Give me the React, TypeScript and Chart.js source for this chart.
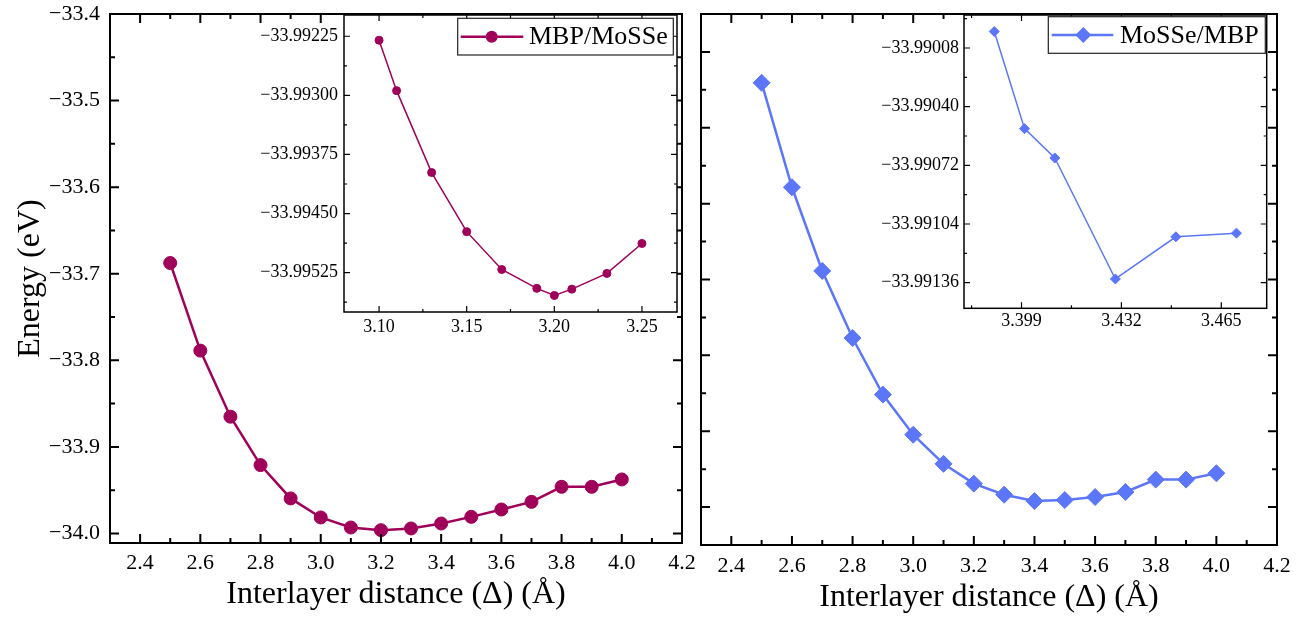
import React, { useEffect, useRef } from "react";
import { Chart, registerables } from "chart.js";

Chart.register(...registerables);

const FONT = "'Liberation Serif', 'Times New Roman', 'DejaVu Serif', serif";
const CRIMSON = "rgb(160, 0, 90)";
const BLUE = "rgb(92, 118, 250)";

// ---- Data ----
const distance = [2.5, 2.6, 2.7, 2.8, 2.9, 3.0, 3.1, 3.2, 3.3, 3.4, 3.5, 3.6, 3.7, 3.8, 3.9, 4.0];
const energyMBPMoSSe = [
  -33.6876, -33.7888, -33.8651, -33.921, -33.9595, -33.9815, -33.9931, -33.9962,
  -33.9942, -33.9885, -33.9808, -33.9723, -33.9635, -33.9461, -33.9461, -33.9376,
];
const energyMoSSeMBP = [
  -33.4407, -33.5784, -33.6887, -33.7771, -33.8517, -33.9046, -33.943, -33.9691,
  -33.9837, -33.9921, -33.9907, -33.9868, -33.9801, -33.9638, -33.9638, -33.9554,
];

const insetDistanceLeft = [3.1, 3.11, 3.13, 3.15, 3.17, 3.19, 3.2, 3.21, 3.23, 3.25];
const insetEnergyLeft = [
  -33.9923, -33.99294, -33.99398, -33.99473, -33.99521, -33.99545, -33.99554, -33.99546,
  -33.99526, -33.99488,
];

const insetDistanceRight = [3.39, 3.4, 3.41, 3.43, 3.45, 3.47];
const insetEnergyRight = [-33.98999, -33.99052, -33.99068, -33.99134, -33.99111, -33.99109];

// ---- Tick labels ----
const mainXTicks = [2.4, 2.6, 2.8, 3.0, 3.2, 3.4, 3.6, 3.8, 4.0, 4.2];
const mainYTicks = [-34.0, -33.9, -33.8, -33.7, -33.6, -33.5, -33.4];
const insetLeftXTicks = [3.1, 3.15, 3.2, 3.25];
const insetLeftYTicks = [-33.99525, -33.9945, -33.99375, -33.993, -33.99225];
const insetRightXTicks = [3.399, 3.432, 3.465];
const insetRightYTicks = [-33.99136, -33.99104, -33.99072, -33.9904, -33.99008];

const fmt = (v: number, d: number) => (v < 0 ? "\u2212" : "") + Math.abs(v).toFixed(d);

function minorTicks(maj: number[], min: number, max: number) {
  const st = maj[1] - maj[0];
  const out: number[] = [];
  for (let i = -1; i < maj.length; i++) {
    const v = i < 0 ? maj[0] - st / 2 : maj[i] + st / 2;
    if (v > min + 1e-12 && v < max - 1e-12) out.push(v);
  }
  return out;
}

const framePlugin = {
  id: "frame",
  beforeDraw(chart: any, _a: any, opts: any) {
    if (opts.fill) {
      const a = chart.chartArea;
      const ctx = chart.ctx;
      ctx.save();
      ctx.fillStyle = "#fff";
      ctx.fillRect(a.left, a.top, a.right - a.left, a.bottom - a.top);
      ctx.restore();
    }
  },
  afterDraw(chart: any, _a: any, opts: any) {
    const { ctx, chartArea: a } = chart;
    const xs = chart.scales.x;
    const ys = chart.scales.y;
    const xMaj = xs.ticks.map((t: any) => t.value);
    const yMaj = ys.ticks.map((t: any) => t.value);
    const xMin = minorTicks(xMaj, xs.min, xs.max);
    const yMin = minorTicks(yMaj, ys.min, ys.max);
    ctx.save();
    ctx.strokeStyle = "#000";
    ctx.lineWidth = opts.tickWidth;
    ctx.beginPath();
    const hx = (v: number, len: number) => {
      const p = xs.getPixelForValue(v);
      ctx.moveTo(p, a.bottom);
      ctx.lineTo(p, a.bottom - len);
      ctx.moveTo(p, a.top);
      ctx.lineTo(p, a.top + len);
    };
    const vy = (v: number, len: number) => {
      const p = ys.getPixelForValue(v);
      ctx.moveTo(a.left, p);
      ctx.lineTo(a.left + len, p);
      ctx.moveTo(a.right, p);
      ctx.lineTo(a.right - len, p);
    };
    xMaj.forEach((v: number) => hx(v, opts.major));
    xMin.forEach((v: number) => hx(v, opts.minor));
    yMaj.forEach((v: number) => vy(v, opts.major));
    yMin.forEach((v: number) => vy(v, opts.minor));
    ctx.stroke();
    ctx.lineWidth = opts.lineWidth;
    ctx.strokeRect(a.left, a.top, a.right - a.left, a.bottom - a.top);

    const lg = opts.legend;
    if (lg) {
      const bx = a.right - lg.right - lg.w;
      const by = a.top + lg.top;
      ctx.fillStyle = "#fff";
      ctx.fillRect(bx, by, lg.w, lg.h);
      ctx.lineWidth = 1.2;
      ctx.strokeStyle = "#222";
      ctx.strokeRect(bx, by, lg.w, lg.h);
      const cy = by + lg.h / 2;
      ctx.strokeStyle = lg.color;
      ctx.lineWidth = lg.lineWidth;
      ctx.beginPath();
      ctx.moveTo(bx + lg.lineStart, cy);
      ctx.lineTo(bx + lg.lineEnd, cy);
      ctx.stroke();
      ctx.fillStyle = lg.color;
      const mx = bx + lg.markerX;
      ctx.beginPath();
      if (lg.marker === "circle") {
        ctx.arc(mx, cy, lg.r, 0, Math.PI * 2);
      } else {
        ctx.moveTo(mx - lg.r, cy);
        ctx.lineTo(mx, cy - lg.r);
        ctx.lineTo(mx + lg.r, cy);
        ctx.lineTo(mx, cy + lg.r);
        ctx.closePath();
      }
      ctx.fill();
      ctx.fillStyle = "#000";
      ctx.font = `${lg.fontSize}px ${FONT}`;
      ctx.textBaseline = "middle";
      ctx.textAlign = "left";
      ctx.fillText(lg.text, bx + lg.textX, cy + 1);
    }
    ctx.restore();
  },
};

type AxisSpec = {
  min: number;
  max: number;
  ticks: number[];
  decimals: number;
  size: number; // width (y) or height (x) of the axis box
  fontSize: number;
  padding: number;
  showLabels?: boolean;
  title?: string;
  titleSize?: number;
  titlePad?: number;
};

function axis(spec: AxisSpec, horizontal: boolean) {
  return {
    type: "linear",
    min: spec.min,
    max: spec.max,
    grid: { display: false, drawTicks: false },
    border: { display: false },
    afterBuildTicks: (s: any) => {
      s.ticks = spec.ticks.map((v) => ({ value: v }));
    },
    afterFit: (s: any) => {
      if (horizontal) s.height = spec.size;
      else s.width = spec.size;
      s.paddingLeft = 0;
      s.paddingRight = 0;
      s.paddingTop = 0;
      s.paddingBottom = 0;
    },
    ticks: {
      display: spec.showLabels !== false,
      autoSkip: false,
      maxRotation: 0,
      minRotation: 0,
      padding: spec.padding,
      color: "#000",
      font: { family: FONT, size: spec.fontSize },
      callback: (v: any) => fmt(Number(v), spec.decimals),
    },
    title: spec.title
      ? {
          display: true,
          text: spec.title,
          color: "#000",
          font: { family: FONT, size: spec.titleSize },
          padding: horizontal ? { top: 0, bottom: spec.titlePad } : { top: spec.titlePad, bottom: 0 },
        }
      : { display: false },
  };
}

function makeConfig(p: {
  xs: number[];
  ys: number[];
  color: string;
  lineWidth: number;
  pointStyle: string;
  pointRadius: number;
  padding: any;
  x: AxisSpec;
  y: AxisSpec;
  frame: any;
}) {
  return {
    type: "line",
    data: {
      datasets: [
        {
          data: p.xs.map((x, i) => ({ x, y: p.ys[i] })),
          borderColor: p.color,
          backgroundColor: p.color,
          borderWidth: p.lineWidth,
          pointStyle: p.pointStyle,
          pointRadius: p.pointRadius,
          pointBorderWidth: 1,
          pointBorderColor: p.color,
          pointBackgroundColor: p.color,
          tension: 0,
          fill: false,
        },
      ],
    },
    options: {
      animation: false,
      responsive: false,
      maintainAspectRatio: false,
      devicePixelRatio: 1,
      layout: { padding: p.padding },
      events: [],
      plugins: {
        legend: { display: false },
        tooltip: { enabled: false },
        frame: p.frame,
      },
      scales: {
        x: axis(p.x, true),
        y: axis(p.y, false),
      },
    },
    plugins: [framePlugin],
  };
}

function ChartBox(props: { left: number; top: number; width: number; height: number; config: () => any }) {
  const ref = useRef<HTMLCanvasElement>(null);
  useEffect(() => {
    const chart = new Chart(ref.current as HTMLCanvasElement, props.config() as any);
    return () => chart.destroy();
  }, []);
  return (
    <canvas
      ref={ref}
      width={props.width}
      height={props.height}
      style={{ position: "absolute", left: props.left, top: props.top, width: props.width, height: props.height }}
    />
  );
}

const XTITLE = "Interlayer distance (\u0394) (\u00C5)";

const leftMain = () =>
  makeConfig({
    xs: distance,
    ys: energyMBPMoSSe,
    color: CRIMSON,
    lineWidth: 2.5,
    pointStyle: "circle",
    pointRadius: 6.5,
    padding: { left: 0, top: 14, right: 18, bottom: 0 },
    x: { min: 2.3, max: 4.2, ticks: mainXTicks, decimals: 1, size: 77, fontSize: 22, padding: 7, title: XTITLE, titleSize: 32, titlePad: 6 },
    y: { min: -34.011, max: -33.4, ticks: mainYTicks, decimals: 1, size: 110, fontSize: 22, padding: 10, title: "Energy (eV)", titleSize: 32, titlePad: 11 },
    frame: { lineWidth: 2, tickWidth: 2, major: 9, minor: 5 },
  });

const rightMain = () =>
  makeConfig({
    xs: distance,
    ys: energyMoSSeMBP,
    color: BLUE,
    lineWidth: 2.5,
    pointStyle: "rectRot",
    pointRadius: 8.5,
    padding: { left: 0, top: 14, right: 22, bottom: 0 },
    x: { min: 2.3, max: 4.2, ticks: mainXTicks, decimals: 1, size: 75, fontSize: 22, padding: 8, title: XTITLE, titleSize: 32, titlePad: 3 },
    y: { min: -34.05, max: -33.35, ticks: mainYTicks, decimals: 1, size: 11, fontSize: 22, padding: 0, showLabels: false },
    frame: { lineWidth: 2, tickWidth: 2, major: 9, minor: 5 },
  });

const leftInset = () =>
  makeConfig({
    xs: insetDistanceLeft,
    ys: insetEnergyLeft,
    color: CRIMSON,
    lineWidth: 1.5,
    pointStyle: "circle",
    pointRadius: 4,
    padding: { left: 0, top: 15, right: 13, bottom: 0 },
    x: { min: 3.08, max: 3.27, ticks: insetLeftXTicks, decimals: 2, size: 28, fontSize: 18, padding: 4 },
    y: { min: -33.99575, max: -33.99198, ticks: insetLeftYTicks, decimals: 5, size: 94, fontSize: 18, padding: 6 },
    frame: {
      fill: true,
      lineWidth: 1.5,
      tickWidth: 1.2,
      major: 6,
      minor: 3,
      legend: {
        text: "MBP/MoSSe",
        color: CRIMSON,
        marker: "circle",
        r: 6,
        lineWidth: 2.5,
        w: 215.6,
        h: 36.7,
        right: 3.7,
        top: 3.3,
        lineStart: 3,
        lineEnd: 65.6,
        markerX: 34,
        textX: 71.3,
        fontSize: 26,
      },
    },
  });

const rightInset = () =>
  makeConfig({
    xs: insetDistanceRight,
    ys: insetEnergyRight,
    color: BLUE,
    lineWidth: 1.5,
    pointStyle: "rectRot",
    pointRadius: 5,
    padding: { left: 0, top: 15, right: 23.3, bottom: 0 },
    x: { min: 3.38, max: 3.48, ticks: insetRightXTicks, decimals: 3, size: 31.7, fontSize: 18, padding: 2 },
    y: { min: -33.9915, max: -33.9899, ticks: insetRightYTicks, decimals: 5, size: 104, fontSize: 18, padding: 5 },
    frame: {
      fill: true,
      lineWidth: 1.5,
      tickWidth: 1.2,
      major: 6,
      minor: 3,
      legend: {
        text: "MoSSe/MBP",
        color: BLUE,
        marker: "diamond",
        r: 8,
        lineWidth: 2.5,
        w: 217,
        h: 36.6,
        right: 1.4,
        top: 1.7,
        lineStart: 3.4,
        lineEnd: 65,
        markerX: 35,
        textX: 71.7,
        fontSize: 26,
      },
    },
  });

export default function App() {
  return (
    <div style={{ position: "fixed", left: 0, top: 0, width: 1299, height: 620, background: "#fff", overflow: "hidden" }}>
      <ChartBox left={0} top={0} width={700} height={620} config={leftMain} />
      <ChartBox left={690} top={0} width={609} height={620} config={rightMain} />
      <ChartBox left={250} top={0} width={440} height={340} config={leftInset} />
      <ChartBox left={860} top={0} width={430} height={340} config={rightInset} />
    </div>
  );
}
